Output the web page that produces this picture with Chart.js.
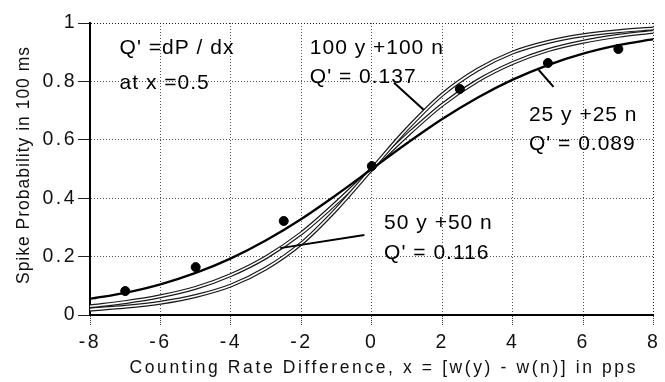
<!DOCTYPE html>
<html>
<head>
<meta charset="utf-8">
<script src="https://cdn.jsdelivr.net/npm/chart.js@4.4.1/dist/chart.umd.min.js"></script>
<style>
  html, body { margin: 0; padding: 0; background: #fff; }
  #wrap { width: 665px; height: 382px; position: relative; }
</style>
</head>
<body>
<div id="wrap"><canvas id="c" width="665" height="382"></canvas></div>
<script>
// ---- data ----
const xTicks = [-8, -6, -4, -2, 0, 2, 4, 6, 8];
const yTicks = [0, 0.2, 0.4, 0.6, 0.8, 1];

const curveX   = [-8, -7, -6, -5, -4, -3, -2, -1, 0, 1, 2, 3, 4, 5, 6, 7, 8];
const curve25  = [0.055, 0.076, 0.105, 0.144, 0.194, 0.256, 0.329, 0.412, 0.5, 0.588, 0.671, 0.744, 0.806, 0.856, 0.895, 0.924, 0.945];
const curve50  = [0.030, 0.044, 0.064, 0.093, 0.137, 0.198, 0.280, 0.385, 0.5, 0.615, 0.720, 0.802, 0.863, 0.907, 0.936, 0.956, 0.970];
const curve100 = [0.019, 0.028, 0.042, 0.065, 0.101, 0.160, 0.245, 0.363, 0.5, 0.637, 0.755, 0.840, 0.899, 0.935, 0.958, 0.972, 0.981];

const dotX = [-7, -5, -2.5, 0, 2.5, 5, 7];
const dotY = [0.082, 0.164, 0.322, 0.51, 0.774, 0.863, 0.911];

const leader100X = [0.63, 1.48];
const leader100Y = [0.795, 0.702];
const leader25X  = [4.74, 5.16];
const leader25Y  = [0.839, 0.781];
const leader50X  = [-0.21, -2.6];
const leader50Y  = [0.274, 0.229];

const xTitle = "Counting Rate Difference, x = [w(y) - w(n)] in pps";
const yTitle = "Spike Probability in 100 ms";

const notes = [
  { text: "Q' =dP / dx", x: -7.16, y: 0.914 },
  { text: "at x =0.5",   x: -7.16, y: 0.795 },
  { text: "100 y +100 n", x: -1.76, y: 0.914 },
  { text: "Q' = 0.137",  x: -1.76, y: 0.815 },
  { text: "25 y +25 n",  x: 4.46, y: 0.685 },
  { text: "Q' = 0.089",  x: 4.46, y: 0.586 },
  { text: "50 y +50 n",  x: 0.35, y: 0.315 },
  { text: "Q' = 0.116",  x: 0.35, y: 0.212 }
];

// ---- build datasets ----
const pts = (xs, ys) => xs.map((x, i) => ({ x: x, y: ys[i] }));
const curveDs = (ys, color, width, order) => ({
  data: pts(curveX, ys), showLine: true, borderColor: color, borderWidth: width,
  pointRadius: 0, cubicInterpolationMode: 'monotone', fill: false, order: order
});
const leaderDs = (xs, ys) => ({
  data: pts(xs, ys), showLine: true, borderColor: '#000', borderWidth: 2,
  pointRadius: 0, tension: 0, fill: false, order: 1
});

const FONT = "'Liberation Sans', Arial, Helvetica, sans-serif";

const spacingPlugin = {
  id: 'spacing',
  beforeDraw(chart) { chart.ctx.letterSpacing = '2.5px'; }
};

const textPlugin = {
  id: 'texts',
  afterDatasetsDraw(chart) {
    const ctx = chart.ctx;
    const xs = chart.scales.x, ys = chart.scales.y;
    ctx.save();
    ctx.letterSpacing = '1px';
    ctx.fillStyle = '#000';
    ctx.font = "21px " + FONT;
    ctx.textAlign = 'left';
    ctx.textBaseline = 'middle';
    notes.forEach(n => {
      ctx.fillText(n.text, xs.getPixelForValue(n.x), ys.getPixelForValue(n.y));
    });
    ctx.restore();
  },
  afterDraw(chart) {
    const ctx = chart.ctx;
    const area = chart.chartArea;
    ctx.save();
    ctx.fillStyle = '#111';
    ctx.textAlign = 'center';
    ctx.textBaseline = 'middle';
    // x axis title
    ctx.letterSpacing = '2.6px';
    ctx.font = "17.5px " + FONT;
    ctx.fillText(xTitle, (area.left + area.right) / 2 + 12, 368);
    // y axis title
    ctx.letterSpacing = '1px';
    ctx.translate(24, (area.top + area.bottom) / 2 - 4);
    ctx.rotate(-Math.PI / 2);
    ctx.fillText(yTitle, 0, 0);
    ctx.restore();
  }
};

const gridColor = (edgeVal) => (c) => (c.tick && c.tick.value === edgeVal ? '#222' : '#555');

new Chart(document.getElementById('c'), {
  type: 'scatter',
  data: {
    datasets: [
      { data: pts(dotX, dotY), pointRadius: 4.5, pointBackgroundColor: '#000', pointBorderColor: '#000', showLine: false, order: 0 },
      leaderDs(leader100X, leader100Y),
      leaderDs(leader25X, leader25Y),
      leaderDs(leader50X, leader50Y),
      curveDs(curve25, '#000000', 2.3, 2),
      curveDs(curve100, '#ffffff', 1.6, 3),
      curveDs(curve100, '#1a1a1a', 4, 4),
      curveDs(curve50, '#ffffff', 1.6, 5),
      curveDs(curve50, '#1a1a1a', 4, 6)
    ]
  },
  options: {
    responsive: false,
    animation: false,
    devicePixelRatio: 1,
    layout: { padding: { top: 23, right: 6, left: 0, bottom: 0 } },
    plugins: { legend: { display: false }, tooltip: { enabled: false } },
    scales: {
      x: {
        type: 'linear', min: -8, max: 8,
        afterBuildTicks(s) { s.ticks = xTicks.map(v => ({ value: v })); },
        afterFit(s) { s.height = 67; },
        border: { display: true, color: '#000', width: 2, dash: [1, 2] },
        grid: { color: gridColor(8), lineWidth: 1, tickLength: 10, tickColor: '#333', tickBorderDash: [1, 1], drawTicks: true },
        ticks: { color: '#111', font: { family: FONT, size: 19.5 }, padding: 6, maxRotation: 0 }
      },
      y: {
        type: 'linear', min: 0, max: 1,
        afterBuildTicks(s) { s.ticks = yTicks.map(v => ({ value: v })); },
        afterFit(s) { s.width = 90; },
        border: { display: true, color: '#000', width: 2, dash: [1, 2] },
        grid: { color: gridColor(1), lineWidth: 1, tickLength: 12, tickColor: '#222', tickBorderDash: [] },
        ticks: { color: '#111', font: { family: FONT, size: 19.5 }, padding: 1, callback: v => String(v) }
      }
    }
  },
  plugins: [spacingPlugin, textPlugin]
});
</script>
</body>
</html>
